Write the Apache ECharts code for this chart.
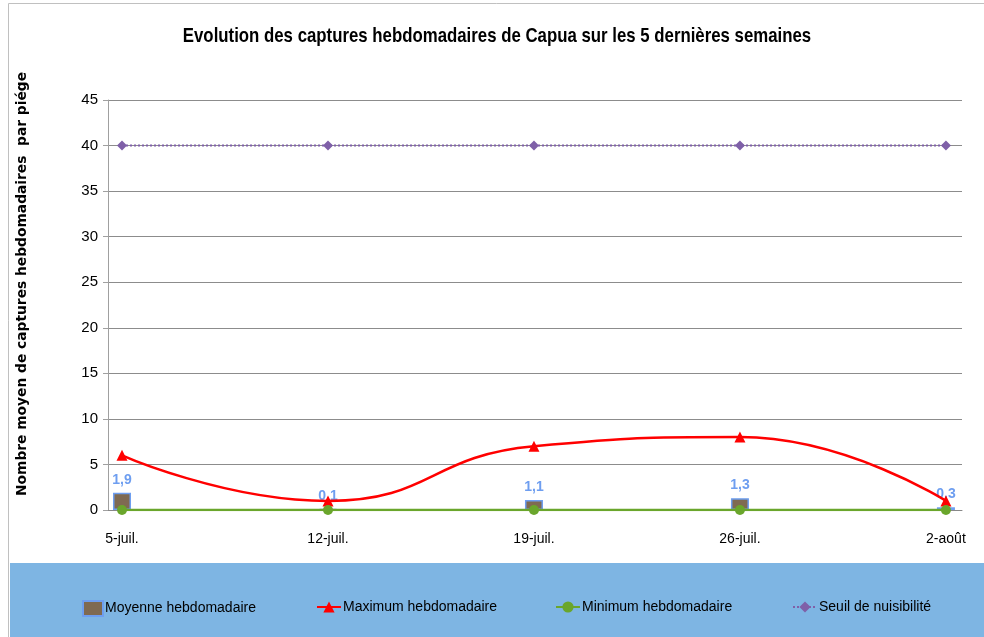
<!DOCTYPE html>
<html>
<head>
<meta charset="utf-8">
<script src="https://cdn.jsdelivr.net/npm/echarts@6/dist/echarts.min.js"></script>
<style>
  html, body { margin: 0; padding: 0; background: #fff; }
  #chart { width: 984px; height: 637px; }
</style>
</head>
<body>
<div id="chart"></div>
<script>
// semaines (dates de relevé)
var categories = ['5-juil.', '12-juil.', '19-juil.', '26-juil.', '2-août'];
var moyenne = [1.9, 0.1, 1.1, 1.3, 0.3];
var maximum = [6, 1, 7, 8, 1];
var minimum = [0, 0, 0, 0, 0];
var seuil = [40, 40, 40, 40, 40];
var yTicks = [0, 5, 10, 15, 20, 25, 30, 35, 40, 45];

var sans = "'Liberation Sans', Arial, sans-serif";

function pairs(arr) {
    var out = [];
    for (var i = 0; i < arr.length; i++) {
        out.push([i, arr[i]]);
    }
    return out;
}

var myChart = echarts.init(document.getElementById('chart'));
myChart.setOption({
    animation: false,
    backgroundColor: '#ffffff',
    graphic: [
        {
            type: 'rect', z: -10,
            shape: { x: 8.5, y: 3.5, width: 990, height: 650 },
            style: { fill: '#fff', stroke: '#c0c0c0', lineWidth: 1 }
        },
        {
            type: 'rect', z: -5,
            shape: { x: 10, y: 563, width: 974, height: 74 },
            style: { fill: '#7eb5e3' }
        },
        {
            // titre (police étroite simulée)
            type: 'text',
            x: 497, y: 36, scaleX: 0.8,
            style: {
                text: 'Evolution des captures hebdomadaires de Capua sur les 5 dernières semaines',
                fontFamily: sans, fontWeight: 'bold', fontSize: 21,
                fill: '#000', align: 'center', verticalAlign: 'middle'
            }
        },
        {
            type: 'text',
            x: 22, y: 284, rotation: Math.PI / 2,
            style: {
                text: 'Nombre moyen de captures hebdomadaires  par piége',
                fontFamily: 'DejaVu Sans', fontWeight: 'bold', fontSize: 13.8,
                fill: '#000', align: 'center', verticalAlign: 'middle'
            }
        }
    ],
    legend: [
        { data: [{ name: 'Moyenne hebdomadaire', icon: 'rect' }], left: 77, top: 595, itemWidth: 20, itemHeight: 15, itemGap: 2,
          textStyle: { fontFamily: sans, fontSize: 14, color: '#000', padding: [0, 0, 0, -3] } },
        { data: ['Maximum hebdomadaire'], left: 311, top: 595, itemWidth: 24, itemHeight: 14,
          textStyle: { fontFamily: sans, fontSize: 14, color: '#000', padding: [0, 0, 0, -3] } },
        { data: ['Minimum hebdomadaire'], left: 550, top: 595, itemWidth: 24, itemHeight: 14,
          textStyle: { fontFamily: sans, fontSize: 14, color: '#000', padding: [0, 0, 0, -3] } },
        { data: ['Seuil de nuisibilité'], left: 787, top: 595, itemWidth: 24, itemHeight: 14,
          textStyle: { fontFamily: sans, fontSize: 14, color: '#000', padding: [0, 0, 0, -3] } }
    ],
    grid: { left: 108, right: 22, top: 100, bottom: 127 },
    xAxis: {
        type: 'value',
        min: -0.068,
        max: 4.078,
        splitLine: { show: false },
        axisLine: { show: true, onZero: false, lineStyle: { color: '#888', width: 1 } },
        axisTick: { show: false },
        axisLabel: {
            customValues: [0, 1, 2, 3, 4],
            margin: 22,
            fontFamily: sans, fontSize: 14, color: '#000',
            formatter: function (v) { return categories[Math.round(v)]; }
        }
    },
    yAxis: {
        type: 'value',
        min: yTicks[0],
        max: yTicks[yTicks.length - 1],
        interval: 5,
        axisLine: { show: true, onZero: false, lineStyle: { color: '#a0a0a0' } },
        axisTick: { show: true, length: 5, inside: false, lineStyle: { color: '#a0a0a0' } },
        splitLine: { lineStyle: { color: '#8c8c8c', width: 1 } },
        axisLabel: { fontFamily: sans, fontSize: 15, color: '#000', margin: 10 }
    },
    series: [
        {
            name: 'Moyenne hebdomadaire',
            type: 'bar',
            barWidth: 18,
            data: pairs(moyenne),
            itemStyle: { color: '#7f6a52', borderColor: '#6e9ef0', borderWidth: 1.5 },
            label: {
                show: true, position: 'top', distance: 6,
                fontFamily: sans, fontWeight: 'bold', fontSize: 14, color: '#6e9ef0',
                formatter: function (p) { return String(p.value[1]).replace('.', ','); }
            },
            z: 2
        },
        {
            name: 'Maximum hebdomadaire',
            type: 'line',
            smooth: 0.5,
            data: pairs(maximum),
            symbol: 'triangle',
            symbolSize: 11,
            lineStyle: { color: '#ff0000', width: 2.5 },
            itemStyle: { color: '#ff0000' },
            z: 3
        },
        {
            name: 'Minimum hebdomadaire',
            type: 'line',
            data: pairs(minimum),
            symbol: 'circle',
            symbolSize: 10,
            lineStyle: { color: '#6aa62c', width: 2.5 },
            itemStyle: { color: '#6aa62c' },
            z: 4
        },
        {
            name: 'Seuil de nuisibilité',
            type: 'line',
            data: pairs(seuil),
            symbol: 'diamond',
            symbolSize: 10,
            lineStyle: { color: '#7f60a8', width: 2, type: [2, 2] },
            itemStyle: { color: '#7f60a8' },
            z: 3
        }
    ]
});
</script>
</body>
</html>
